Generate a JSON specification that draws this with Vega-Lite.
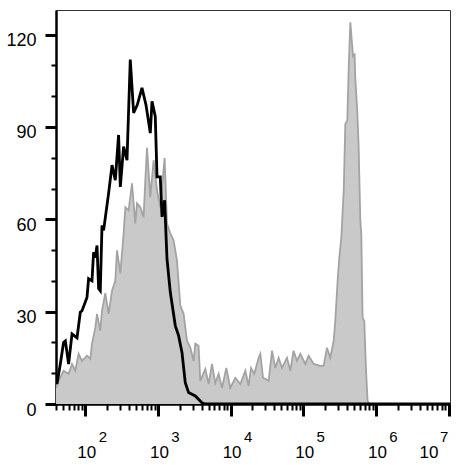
{
  "$schema": "https://vega.github.io/schema/vega-lite/v6.json",
  "autosize": {"type": "none"},
  "padding": {"left": 56, "top": 10, "right": 9, "bottom": 61},
  "width": 394,
  "height": 394,
  "background": "white",
  "config": {
    "view": {"stroke": "#333333", "strokeWidth": 1},
    "axis": {"grid": false, "labelFont": "Liberation Sans", "labelColor": "#000000", "tickColor": "#000000", "domainColor": "#000000", "zindex": 1, "title": null}
  },
  "datasets": {
    "gray": [
      {"x":39.5,"y":5.3},{"x":43,"y":7.5},{"x":50.2,"y":10.8},{"x":58.9,"y":9.8},{"x":65.6,"y":13},{"x":72.8,"y":10.8},{"x":80.9,"y":16.3},{"x":90.1,"y":14},{"x":105.5,"y":15.7},{"x":117.2,"y":14.7},{"x":123.6,"y":19.6},{"x":137.4,"y":24.8},{"x":144.9,"y":29.3},{"x":160.7,"y":23.8},{"x":169.8,"y":30.3},{"x":188.4,"y":36},{"x":209.4,"y":29.3},{"x":233.3,"y":36.8},{"x":258.8,"y":40.1},{"x":273,"y":49.9},{"x":303.4,"y":42.4},{"x":336.6,"y":55.4},{"x":355.6,"y":63.9},{"x":394.5,"y":62.9},{"x":439.5,"y":71.7},{"x":487.5,"y":58.7},{"x":515.2,"y":65.2},{"x":571.5,"y":63.9},{"x":634,"y":60.7},{"x":669.9,"y":72.7},{"x":706.3,"y":83.2},{"x":784.7,"y":67.2},{"x":871,"y":79.2},{"x":970.5,"y":69.5},{"x":1076,"y":63.9},{"x":1235,"y":79.9},{"x":1331,"y":58.7},{"x":1479,"y":55.4},{"x":1641,"y":53.2},{"x":1828,"y":46.6},{"x":2032,"y":32},{"x":2254,"y":29.3},{"x":2512,"y":20.5},{"x":2786,"y":18.3},{"x":3097,"y":14},{"x":3266,"y":19.6},{"x":3622,"y":18.9},{"x":3828,"y":7.5},{"x":4487,"y":11.4},{"x":4977,"y":6.5},{"x":5546,"y":13},{"x":6152,"y":6.8},{"x":6839,"y":9.8},{"x":7621,"y":5.2},{"x":8730,"y":11.7},{"x":9908,"y":5.2},{"x":11610,"y":8.5},{"x":13610,"y":6.5},{"x":15960,"y":10.8},{"x":17700,"y":5.9},{"x":19100,"y":11.7},{"x":21190,"y":9.8},{"x":24320,"y":15},{"x":25650,"y":16.3},{"x":27930,"y":8.5},{"x":30060,"y":8.2},{"x":33350,"y":7.5},{"x":37150,"y":17.3},{"x":41210,"y":11.7},{"x":45810,"y":15},{"x":50930,"y":11.7},{"x":59700,"y":15},{"x":66370,"y":10.8},{"x":73620,"y":17.3},{"x":82040,"y":14},{"x":91010,"y":16.3},{"x":106700,"y":13},{"x":118500,"y":15.7},{"x":138800,"y":13},{"x":171700,"y":12.4},{"x":190500,"y":12.4},{"x":212300,"y":18.3},{"x":235700,"y":15},{"x":261800,"y":20.5},{"x":276300,"y":27.1},{"x":297200,"y":40.1},{"x":313500,"y":47.6},{"x":334200,"y":54},{"x":361400,"y":70},{"x":379300,"y":91},{"x":403600,"y":92},{"x":423600,"y":110},{"x":444600,"y":124},{"x":484200,"y":113},{"x":509300,"y":113.5},{"x":520000,"y":106},{"x":554600,"y":95},{"x":578100,"y":84},{"x":609500,"y":60},{"x":629500,"y":55},{"x":656100,"y":28},{"x":691800,"y":27},{"x":731100,"y":11},{"x":769100,"y":1},{"x":810900,"y":0},{"x":10470000,"y":0}
    ],
    "black": [
      {"x":40.7,"y":6.5},{"x":45.3,"y":13},{"x":50.2,"y":20},{"x":53.1,"y":20.5},{"x":58.9,"y":13},{"x":65.6,"y":22.8},{"x":76.9,"y":21.5},{"x":85.3,"y":29.8},{"x":90.1,"y":30.3},{"x":105.5,"y":34.6},{"x":111,"y":40.7},{"x":123.6,"y":40},{"x":130,"y":49.3},{"x":137.4,"y":47.6},{"x":144.9,"y":51.5},{"x":152.4,"y":37.5},{"x":160.7,"y":36.8},{"x":169.8,"y":58},{"x":178.6,"y":56.4},{"x":209.4,"y":68.5},{"x":233.3,"y":77.6},{"x":258.8,"y":72.7},{"x":287.1,"y":87.4},{"x":303.4,"y":70.5},{"x":336.6,"y":83.6},{"x":374.8,"y":79.2},{"x":415.9,"y":111.9},{"x":462.4,"y":94.6},{"x":519.9,"y":97.2},{"x":602.6,"y":102.7},{"x":684,"y":97.2},{"x":784.7,"y":88},{"x":827.9,"y":98.3},{"x":918.4,"y":93.4},{"x":970.5,"y":73.8},{"x":1076,"y":73.8},{"x":1137,"y":60.8},{"x":1235,"y":66.2},{"x":1331,"y":47.2},{"x":1479,"y":36.3},{"x":1734,"y":25.4},{"x":1923,"y":22.2},{"x":2143,"y":16.7},{"x":2377,"y":6.9},{"x":2642,"y":3.7},{"x":3266,"y":2.6},{"x":4036,"y":0.4},{"x":4477,"y":0},{"x":10470000,"y":0}
    ]
  },
  "layer": [
    {
      "data": {"name": "gray"},
      "mark": {"type": "area", "color": "#c9c9c9", "clip": true},
      "encoding": {
        "x": {"field": "x", "type": "quantitative",
          "scale": {"type": "log", "domain": [39.5, 10470000], "nice": false},
          "axis": {"orient": "bottom", "values": [100, 1000, 10000, 100000, 1000000, 10000000], "labelExpr": "'10'", "tickSize": 12, "tickWidth": 3, "domainWidth": 2.5, "labelFontSize": 17, "labelPadding": 28, "labelOffset": {"condition": {"test": "datum.value > 5000000", "value": -20}, "value": 1}, "labelFlush": false, "labelOverlap": false, "labelAlign": "center", "labelBaseline": "top"}},
        "y": {"field": "y", "type": "quantitative",
          "scale": {"domain": [0, 128], "nice": false, "zero": true},
          "axis": {"orient": "left", "values": [0, 30, 60, 90, 120], "tickSize": 11, "tickWidth": 3, "domainWidth": 2.5, "labelFontSize": 18, "labelPadding": 9, "labelFlush": false, "labelOverlap": false, "labelBaseline": "middle", "labelOffset": 6}}
      }
    },
    {
      "data": {"name": "gray"},
      "mark": {"type": "line", "color": "#a3a3a3", "strokeWidth": 1.8, "clip": true},
      "encoding": {
        "x": {"field": "x", "type": "quantitative",
          "scale": {"type": "log", "domain": [39.5, 10470000], "nice": false},
          "axis": {"orient": "bottom", "values": [40,50,60,70,80,90,200,300,400,500,600,700,800,900,2000,3000,4000,5000,6000,7000,8000,9000,20000,30000,40000,50000,60000,70000,80000,90000,200000,300000,400000,500000,600000,700000,800000,900000,2000000,3000000,4000000,5000000,6000000,7000000,8000000,9000000], "labels": false, "domain": false, "tickSize": 6, "tickWidth": 2}},
        "y": {"field": "y", "type": "quantitative",
          "scale": {"domain": [0, 128], "nice": false, "zero": true},
          "axis": {"orient": "left", "values": [10, 20, 40, 50, 70, 80, 100, 110], "labels": false, "domain": false, "tickSize": 5, "tickWidth": 2}}
      }
    },
    {
      "data": {"name": "black"},
      "mark": {"type": "line", "color": "#000000", "strokeWidth": 2.8, "clip": true},
      "encoding": {
        "x": {"field": "x", "type": "quantitative",
          "scale": {"type": "log", "domain": [39.5, 10470000], "nice": false},
          "axis": {"orient": "bottom", "values": [100, 1000, 10000, 100000, 1000000, 10000000], "labelExpr": "'' + round(log(datum.value) / LN10)", "ticks": false, "tickSize": 0, "domain": false, "labelFontSize": 15, "labelPadding": 25, "labelOffset": {"condition": {"test": "datum.value > 5000000", "value": -5}, "value": 17}, "labelFlush": false, "labelOverlap": false, "labelAlign": "center", "labelBaseline": "top"}},
        "y": {"field": "y", "type": "quantitative",
          "scale": {"domain": [0, 128], "nice": false, "zero": true},
          "axis": null}
      }
    }
  ],
  "resolve": {"axis": {"x": "independent", "y": "independent"}}
}
